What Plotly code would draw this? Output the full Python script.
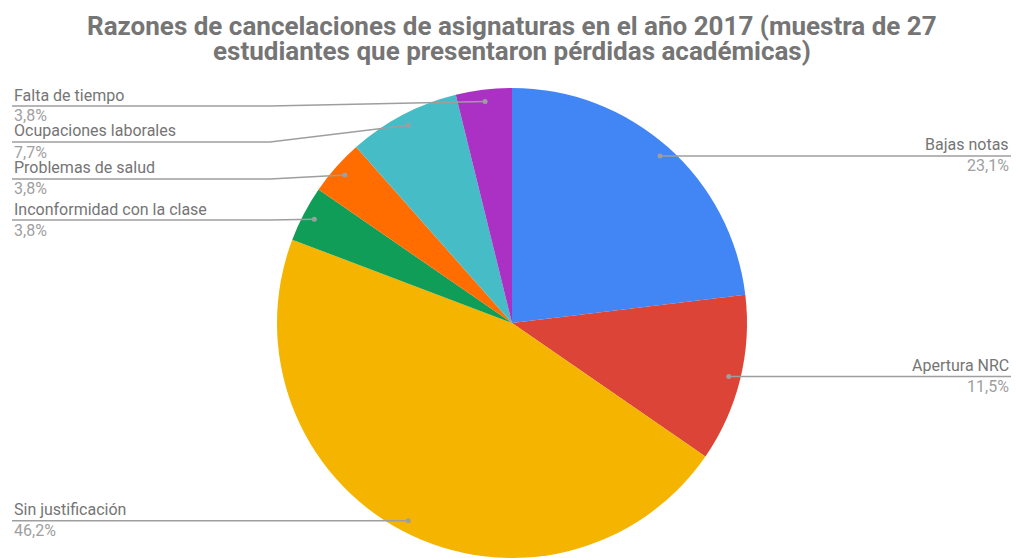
import plotly.graph_objects as go
import math

W, H = 1016, 558

labels = ["Bajas notas", "Apertura NRC", "Sin justificación", "Inconformidad con la clase",
          "Problemas de salud", "Ocupaciones laborales", "Falta de tiempo"]
values = [6, 3, 12, 1, 1, 2, 1]
pct_text = ["23,1%", "11,5%", "46,2%", "3,8%", "3,8%", "7,7%", "3,8%"]
colors = ["#4285F4", "#DB4437", "#F4B400", "#0F9D58", "#FF6D00", "#46BDC6", "#AB30C4"]
title_lines = ["Razones de cancelaciones de asignaturas en el año 2017 (muestra de 27",
               "estudiantes que presentaron pérdidas académicas)"]

# layout (pixels)
dom_x = (277, 747)
dom_y_px = (88, 558)  # top, bottom in screen px
cx = (dom_x[0] + dom_x[1]) / 2
cy = (dom_y_px[0] + dom_y_px[1]) / 2
r = (dom_x[1] - dom_x[0]) / 2

side = ["right", "right", "left", "left", "left", "left", "left"]
left_slot_y = {3: 220, 4: 179, 5: 142, 6: 106}  # fixed label slots on left
LEFT_X, BREAK_X, RIGHT_X = 12, 270, 1011

def px(x):
    return x / W

def py(y):
    return 1 - y / H

fig = go.Figure(go.Pie(
    labels=labels, values=values, sort=False, direction="clockwise", rotation=0,
    marker=dict(colors=colors, line=dict(width=0)),
    textinfo="none", hoverinfo="label+percent", showlegend=False,
    domain=dict(x=[px(dom_x[0]), px(dom_x[1])], y=[py(dom_y_px[1]), py(dom_y_px[0])]),
))

total = sum(values)
cum = 0
shapes, annotations = [], []
LINE_C = "#9E9E9E"
NAME_C = "#757575"
PCT_C = "#A0A0A0"
FS = 16
for i, v in enumerate(values):
    mid = (cum + v / 2) / total * 2 * math.pi
    cum += v
    dx = cx + 0.95 * r * math.sin(mid)
    dy = cy - 0.95 * r * math.cos(mid)
    if side[i] == "right":
        ly = dy
        shapes.append(dict(type="line", xref="paper", yref="paper",
                           x0=px(dx), y0=py(dy), x1=px(RIGHT_X), y1=py(ly),
                           line=dict(color=LINE_C, width=1.5)))
        ax, anchor = RIGHT_X, "right"
    else:
        ly = left_slot_y.get(i, dy)
        if i in left_slot_y:
            shapes.append(dict(type="line", xref="paper", yref="paper",
                               x0=px(LEFT_X), y0=py(ly), x1=px(BREAK_X), y1=py(ly),
                               line=dict(color=LINE_C, width=1.5)))
            shapes.append(dict(type="line", xref="paper", yref="paper",
                               x0=px(BREAK_X), y0=py(ly), x1=px(dx), y1=py(dy),
                               line=dict(color=LINE_C, width=1.5)))
        else:
            shapes.append(dict(type="line", xref="paper", yref="paper",
                               x0=px(LEFT_X), y0=py(ly), x1=px(dx), y1=py(dy),
                               line=dict(color=LINE_C, width=1.5)))
        ax, anchor = LEFT_X, "left"
    shapes.append(dict(type="circle", xref="paper", yref="paper",
                       xsizemode="pixel", ysizemode="pixel",
                       xanchor=px(dx), yanchor=py(dy), x0=-2.5, x1=2.5, y0=-2.5, y1=2.5,
                       fillcolor=LINE_C, line=dict(width=0)))
    annotations.append(dict(text=labels[i], x=px(ax), y=py(ly - 11), xref="paper", yref="paper",
                            xanchor=anchor, yanchor="middle", showarrow=False,
                            font=dict(family="Roboto", size=FS, color=NAME_C)))
    annotations.append(dict(text=pct_text[i], x=px(ax), y=py(ly + 10), xref="paper", yref="paper",
                            xanchor=anchor, yanchor="middle", showarrow=False,
                            font=dict(family="Roboto", size=FS, color=PCT_C)))

for k, (t, ty) in enumerate(zip(title_lines, [26, 51])):
    annotations.append(dict(text="<b>" + t + "</b>", x=px(512), y=py(ty), xref="paper", yref="paper",
                            xanchor="center", yanchor="middle", showarrow=False,
                            font=dict(family="Roboto", size=26, color="#757575")))

fig.update_layout(
    width=W, height=H, margin=dict(l=0, r=0, t=0, b=0),
    paper_bgcolor="white", plot_bgcolor="white",
    shapes=shapes, annotations=annotations,
)

fig.write_html("out.html")
